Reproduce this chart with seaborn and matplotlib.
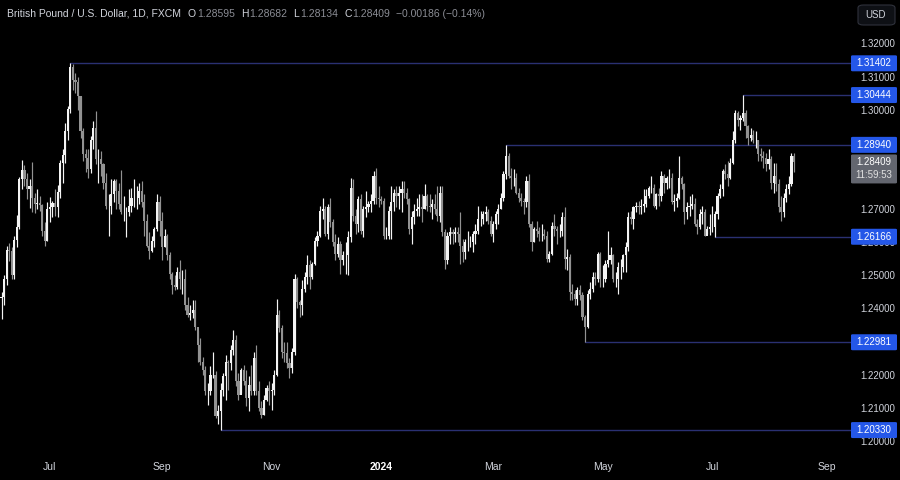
import numpy as np
import pandas as pd
import seaborn as sns
import matplotlib.pyplot as plt
from matplotlib.patches import FancyBboxPatch

# GBP/USD daily candles, FXCM, 5 Jun 2023 - 14 Aug 2024
first_date = '2023-06-05'
first_open = 1.2440

closes = [
    # Jun 2023
    1.2433, 1.2436, 1.2488, 1.2577, 1.2575, 1.2502, 1.2606, 1.2645, 1.2792, 1.2818,
    1.2792, 1.2760, 1.2769, 1.2735, 1.2716, 1.2717, 1.2711, 1.2635, 1.2605, 1.2700,
    # Jul 2023
    1.2705, 1.2717, 1.2706, 1.2751, 1.2838, 1.2863, 1.2935, 1.3003, 1.3130, 1.3090,
    1.3085, 1.3040, 1.2935, 1.2865, 1.2855, 1.2820, 1.2910, 1.2945, 1.2850, 1.2850,
    1.2835,
    # Aug 2023
    1.2780, 1.2710, 1.2710, 1.2745, 1.2785, 1.2755, 1.2715, 1.2690, 1.2690, 1.2690,
    1.2710, 1.2735, 1.2735, 1.2735, 1.2755, 1.2720, 1.2665, 1.2590, 1.2575, 1.2605,
    1.2640, 1.2720, 1.2665,
    # Sep 2023
    1.2585, 1.2620, 1.2560, 1.2505, 1.2470, 1.2465, 1.2510, 1.2490, 1.2490, 1.2410,
    1.2380, 1.2385, 1.2395, 1.2345, 1.2290, 1.2240, 1.2215, 1.2150, 1.2150, 1.2200,
    1.2200,
    # Oct 2023
    1.2075, 1.2090, 1.2155, 1.2195, 1.2240, 1.2235, 1.2275, 1.2305, 1.2180, 1.2140,
    1.2215, 1.2180, 1.2130, 1.2170, 1.2150, 1.2250, 1.2150, 1.2100, 1.2080, 1.2125,
    1.2160, 1.2150,
    # Nov 2023
    1.2155, 1.2200, 1.2380, 1.2340, 1.2270, 1.2265, 1.2235, 1.2220, 1.2270, 1.2490,
    1.2420, 1.2410, 1.2460, 1.2495, 1.2530, 1.2495, 1.2535, 1.2605, 1.2620, 1.2695,
    1.2700, 1.2625,
    # Dec 2023
    1.2705, 1.2660, 1.2600, 1.2565, 1.2595, 1.2545, 1.2560, 1.2560, 1.2615, 1.2765,
    1.2680, 1.2655, 1.2730, 1.2635, 1.2700, 1.2705, 1.2715, 1.2725, 1.2800, 1.2735,
    1.2730,
    # Jan 2024
    1.2725, 1.2620, 1.2620, 1.2695, 1.2720, 1.2750, 1.2740, 1.2750, 1.2760, 1.2750,
    1.2730, 1.2640, 1.2675, 1.2695, 1.2700, 1.2705, 1.2700, 1.2740, 1.2710, 1.2705,
    1.2715, 1.2700, 1.2680,
    # Feb 2024
    1.2750, 1.2630, 1.2545, 1.2620, 1.2630, 1.2625, 1.2630, 1.2625, 1.2590, 1.2570,
    1.2600, 1.2600, 1.2600, 1.2625, 1.2635, 1.2670, 1.2670, 1.2685, 1.2690, 1.2665,
    1.2625,
    # Mar 2024
    1.2655, 1.2685, 1.2700, 1.2735, 1.2805, 1.2860, 1.2800, 1.2795, 1.2795, 1.2750,
    1.2735, 1.2725, 1.2720, 1.2785, 1.2655, 1.2600, 1.2640, 1.2635, 1.2625, 1.2625,
    1.2620,
    # Apr 2024
    1.2550, 1.2565, 1.2650, 1.2640, 1.2635, 1.2635, 1.2675, 1.2550, 1.2555, 1.2450,
    1.2445, 1.2430, 1.2455, 1.2440, 1.2375, 1.2345, 1.2445, 1.2460, 1.2495, 1.2490,
    1.2565, 1.2490,
    # May 2024
    1.2490, 1.2535, 1.2545, 1.2560, 1.2490, 1.2490, 1.2525, 1.2525, 1.2560, 1.2585,
    1.2675, 1.2670, 1.2705, 1.2710, 1.2705, 1.2710, 1.2715, 1.2740, 1.2765, 1.2765,
    1.2710, 1.2745, 1.2740,
    # Jun 2024
    1.2800, 1.2780, 1.2795, 1.2795, 1.2720, 1.2725, 1.2735, 1.2795, 1.2775, 1.2690,
    1.2705, 1.2710, 1.2715, 1.2655, 1.2645, 1.2685, 1.2690, 1.2620, 1.2640, 1.2645,
    # Jul 2024
    1.2645, 1.2685, 1.2740, 1.2760, 1.2815, 1.2805, 1.2795, 1.2840, 1.2910, 1.2990,
    1.2970, 1.2975, 1.2990, 1.2950, 1.2915, 1.2925, 1.2910, 1.2910, 1.2865, 1.2860,
    1.2855, 1.2835, 1.2850,
    # Aug 2024
    1.2780, 1.2800, 1.2775, 1.2705, 1.2690, 1.2735, 1.2760, 1.2775, 1.28595, 1.28409,
]

highs = [
    1.2460, 1.2450, 1.2500, 1.2590, 1.2598, 1.2585, 1.2620, 1.2682, 1.2798, 1.2848,
    1.2832, 1.2810, 1.2790, 1.2841, 1.2750, 1.2760, 1.2740, 1.2716, 1.2660, 1.2720,
    1.2738, 1.2725, 1.2760, 1.2772, 1.2848, 1.2880, 1.2960, 1.3010, 1.31402, 1.3138,
    1.3110, 1.3100, 1.3040, 1.2945, 1.2880, 1.2880, 1.2920, 1.2965, 1.2995, 1.2880,
    1.2875,
    1.2840, 1.2810, 1.2745, 1.2790, 1.2790, 1.2790, 1.2780, 1.2818, 1.2740, 1.2705,
    1.2760, 1.2765, 1.2790, 1.2770, 1.2780, 1.2785, 1.2745, 1.2685, 1.2630, 1.2620,
    1.2645, 1.2745, 1.2740,
    1.2690, 1.2640, 1.2625, 1.2570, 1.2510, 1.2500, 1.2525, 1.2545, 1.2515, 1.2520,
    1.2435, 1.2410, 1.2425, 1.2425, 1.2335, 1.2310, 1.2255, 1.2225, 1.2175, 1.2225,
    1.2270,
    1.2210, 1.2110, 1.2175, 1.2205, 1.2260, 1.2245, 1.2290, 1.2335, 1.2320, 1.2205,
    1.2220, 1.2230, 1.2215, 1.2195, 1.2230, 1.2270, 1.2290, 1.2180, 1.2120, 1.2140,
    1.2170, 1.2180,
    1.2175, 1.2215, 1.2430, 1.2395, 1.2350, 1.2300, 1.2300, 1.2250, 1.2280, 1.2505,
    1.2495, 1.2425, 1.2485, 1.2510, 1.2560, 1.2545, 1.2540, 1.2615, 1.2635, 1.2710,
    1.2735, 1.2710,
    1.2715, 1.2735, 1.2670, 1.2625, 1.2615, 1.2605, 1.2575, 1.2600, 1.2635, 1.2795,
    1.2790, 1.2700, 1.2740, 1.2745, 1.2710, 1.2755, 1.2725, 1.2745, 1.2815, 1.2825,
    1.2770,
    1.2740, 1.2735, 1.2645, 1.2710, 1.2770, 1.2760, 1.2770, 1.2770, 1.2785, 1.2785,
    1.2765, 1.2735, 1.2695, 1.2715, 1.2735, 1.2745, 1.2745, 1.2775, 1.2745, 1.2745,
    1.2730, 1.2745, 1.2770,
    1.2770, 1.2770, 1.2640, 1.2630, 1.2645, 1.2640, 1.2645, 1.2645, 1.2690, 1.2610,
    1.2610, 1.2635, 1.2620, 1.2635, 1.2655, 1.2710, 1.2695, 1.2695, 1.2710, 1.2700,
    1.2680,
    1.2665, 1.2695, 1.2715, 1.2750, 1.2815, 1.28940, 1.2870, 1.2825, 1.2820, 1.2810,
    1.2765, 1.2750, 1.2735, 1.2800, 1.2805, 1.2665, 1.2645, 1.2665, 1.2645, 1.2655,
    1.2640,
    1.2635, 1.2575, 1.2660, 1.2685, 1.2650, 1.2655, 1.2690, 1.2705, 1.2580, 1.2565,
    1.2475, 1.2455, 1.2465, 1.2470, 1.2450, 1.2380, 1.2455, 1.2480, 1.2510, 1.2510,
    1.2570, 1.2570,
    1.2530, 1.2545, 1.2635, 1.2585, 1.2565, 1.2510, 1.2540, 1.2550, 1.2565, 1.2600,
    1.2690, 1.2695, 1.2710, 1.2720, 1.2725, 1.2730, 1.2760, 1.2760, 1.2770, 1.2800,
    1.2775, 1.2750, 1.2765,
    1.2815, 1.2805, 1.2800, 1.2820, 1.2810, 1.2745, 1.2750, 1.2860, 1.2800, 1.2780,
    1.2720, 1.2740, 1.2745, 1.2735, 1.2670, 1.2700, 1.2710, 1.2700, 1.2650, 1.2685,
    1.2710, 1.2695, 1.2750, 1.2775, 1.2820, 1.2835, 1.2845, 1.2855, 1.2935, 1.3000,
    1.2995, 1.2985, 1.30444, 1.3000, 1.2955, 1.2945, 1.2940, 1.2935, 1.2910, 1.2885,
    1.2875, 1.2870, 1.2880,
    1.2860, 1.2840, 1.2840, 1.2790, 1.2740, 1.2750, 1.2775, 1.2800, 1.2870, 1.28682,
]

lows = [
    1.2370, 1.2368, 1.2410, 1.2470, 1.2542, 1.2490, 1.2490, 1.2585, 1.2640, 1.2760,
    1.2770, 1.2730, 1.2703, 1.2690, 1.2689, 1.2700, 1.2693, 1.2620, 1.2590, 1.2603,
    1.2660, 1.2676, 1.2680, 1.2677, 1.2735, 1.2780, 1.2840, 1.2910, 1.2990, 1.3060,
    1.3050, 1.3000, 1.2915, 1.2845, 1.2812, 1.2795, 1.2810, 1.2880, 1.2837, 1.2780,
    1.2800,
    1.2760, 1.2700, 1.2620, 1.2685, 1.2720, 1.2700, 1.2700, 1.2685, 1.2665, 1.2615,
    1.2680, 1.2690, 1.2705, 1.2700, 1.2715, 1.2705, 1.2620, 1.2585, 1.2550, 1.2570,
    1.2585, 1.2635, 1.2620,
    1.2545, 1.2585, 1.2545, 1.2490, 1.2445, 1.2455, 1.2460, 1.2460, 1.2445, 1.2395,
    1.2375, 1.2365, 1.2370, 1.2335, 1.2240, 1.2230, 1.2200, 1.2140, 1.2110, 1.2140,
    1.2190,
    1.2070, 1.2050, 1.20330, 1.2135, 1.2125, 1.2155, 1.2215, 1.2260, 1.2165, 1.2125,
    1.2145, 1.2170, 1.2105, 1.2090, 1.2140, 1.2140, 1.2140, 1.2090, 1.2070, 1.2080,
    1.2120, 1.2110,
    1.2095, 1.2140, 1.2195, 1.2330, 1.2250, 1.2240, 1.2220, 1.2190, 1.2205, 1.2260,
    1.2400, 1.2375, 1.2380, 1.2450, 1.2475, 1.2460, 1.2490, 1.2530, 1.2590, 1.2615,
    1.2670, 1.2620,
    1.2610, 1.2645, 1.2590, 1.2545, 1.2555, 1.2505, 1.2530, 1.2505, 1.2500, 1.2600,
    1.2665, 1.2625, 1.2630, 1.2625, 1.2615, 1.2675, 1.2690, 1.2690, 1.2715, 1.2715,
    1.2705,
    1.2715, 1.2610, 1.2610, 1.2610, 1.2610, 1.2695, 1.2705, 1.2700, 1.2690, 1.2735,
    1.2715, 1.2625, 1.2595, 1.2655, 1.2680, 1.2680, 1.2660, 1.2700, 1.2695, 1.2690,
    1.2670, 1.2685, 1.2665,
    1.2660, 1.2620, 1.2520, 1.2535, 1.2595, 1.2595, 1.2600, 1.2600, 1.2535, 1.2540,
    1.2550, 1.2575, 1.2585, 1.2570, 1.2595, 1.2625, 1.2650, 1.2655, 1.2665, 1.2655,
    1.2620,
    1.2600, 1.2640, 1.2655, 1.2700, 1.2725, 1.2790, 1.2795, 1.2760, 1.2770, 1.2745,
    1.2720, 1.2710, 1.2685, 1.2705, 1.2645, 1.2575, 1.2600, 1.2615, 1.2605, 1.2605,
    1.2610,
    1.2540, 1.2540, 1.2560, 1.2620, 1.2595, 1.2615, 1.2620, 1.2520, 1.2515, 1.2425,
    1.2425, 1.2410, 1.2410, 1.2425, 1.2365, 1.22981, 1.2340, 1.2430, 1.2450, 1.2470,
    1.2480, 1.2465,
    1.2465, 1.2480, 1.2525, 1.2535, 1.2480, 1.2465, 1.2445, 1.2490, 1.2510, 1.2510,
    1.2575, 1.2655, 1.2640, 1.2690, 1.2685, 1.2685, 1.2690, 1.2705, 1.2735, 1.2750,
    1.2705, 1.2700, 1.2710,
    1.2725, 1.2750, 1.2760, 1.2765, 1.2715, 1.2695, 1.2705, 1.2730, 1.2760, 1.2655,
    1.2670, 1.2680, 1.2700, 1.2650, 1.2625, 1.2640, 1.2655, 1.2620, 1.2625, 1.2622,
    1.2630, 1.26166, 1.2670, 1.2735, 1.2740, 1.2790, 1.2770, 1.2790, 1.2835, 1.2900,
    1.2950, 1.2940, 1.2965, 1.2915, 1.2895, 1.2905, 1.2900, 1.2885, 1.2845, 1.2845,
    1.2825, 1.2815, 1.2820,
    1.2760, 1.2750, 1.2755, 1.2690, 1.2665, 1.2675, 1.2720, 1.2745, 1.2770, 1.28134,
]

# horizontal support / resistance levels drawn on the chart
levels = [1.31402, 1.30444, 1.28940, 1.26166, 1.22981, 1.20330]
last_price = 1.28409
countdown = '11:59:53'
header_title = 'British Pound / U.S. Dollar, 1D, FXCM'
header_ohlc = [('O', '1.28595'), ('H', '1.28682'), ('L', '1.28134'), ('C', '1.28409')]
header_change = '\u22120.00186 (\u22120.14%)'

month_ticks = ['2023-07', '2023-09', '2023-11', '2024-01', '2024-03', '2024-05', '2024-07', '2024-09']
month_labels = ['Jul', 'Sep', 'Nov', '2024', 'Mar', 'May', 'Jul', 'Sep']
# 1.23, 1.28 and 1.29 sit fully under the level / last price tags in the original
price_ticks = [1.20, 1.21, 1.22, 1.24, 1.25, 1.26, 1.27, 1.30, 1.31, 1.32]

assert len(closes) == len(highs) == len(lows)

# FX bars open where the previous one closed
c = np.array(closes)
o = np.concatenate([[first_open], c[:-1]])
h = np.array(highs)
l = np.array(lows)
x = np.arange(len(c))

sns.set_theme(style='dark', rc={'axes.facecolor': 'black', 'figure.facecolor': 'black',
                                'axes.grid': False})
plt.rcParams['font.family'] = ['Liberation Sans', 'DejaVu Sans']

TXT = '#d1d4dc'
GREY = '#8b8d95'
FS = 7
W, H = 900, 480

fig = plt.figure(figsize=(9, 4.8), dpi=100)
ax = fig.add_axes([0, 28 / H, 848 / W, 452 / H])
ax.set_facecolor('black')
for s in ax.spines.values():
    s.set_visible(False)

up = c >= o
colors = np.where(up, '#f4f4f4', '#929292')
ax.vlines(x, l, h, colors=colors, lw=0.85, zorder=3)
ax.bar(x, np.abs(c - o), bottom=np.minimum(o, c), width=0.85, color=colors, lw=0, zorder=4)

ax.set_xlim(0.4, 333.2)
ax.set_ylim(1.19668, 1.33313)

# month axis from business-day calendar
dates = pd.bdate_range(first_date, periods=340)
pos = [int(np.argmax(dates.strftime('%Y-%m') == m)) for m in month_ticks]
ax.set_xticks(pos)
ax.set_xticklabels(month_labels)
ax.tick_params(axis='x', length=0, pad=7, labelsize=FS + 0.5, labelcolor=TXT)
for t in ax.get_xticklabels():
    if t.get_text() == '2024':
        t.set_fontweight('bold')
        t.set_color('white')

ax.yaxis.tick_right()
ax.set_yticks(price_ticks)
ax.set_yticklabels([f'{v:.5f}' for v in price_ticks], ha='right')
ax.tick_params(axis='y', length=0, pad=34, labelsize=FS, labelcolor=TXT)

# level lines from the pivot bar to the price scale
x_end = 334.5
for lvl in levels:
    i0 = int(np.argmin(np.minimum(np.abs(h - lvl), np.abs(l - lvl))))
    ax.plot([i0, x_end], [lvl, lvl], color='#2a3072', lw=1, clip_on=False, zorder=2)

# price scale labels
for lvl in levels:
    yd = ax.transData.transform((0, lvl))[1]
    fig.add_artist(FancyBboxPatch((851 / W, (yd - 8) / H), 46 / W, 16 / H,
                                  boxstyle='round,pad=0,rounding_size=0.002',
                                  transform=fig.transFigure, fc='#2457e8', ec='none', zorder=5))
    fig.text(874 / W, yd / H, f'{lvl:.5f}', ha='center', va='center', color='white',
             fontsize=FS, zorder=6)

yd = ax.transData.transform((0, last_price))[1]
fig.add_artist(FancyBboxPatch((851 / W, (yd - 21) / H), 46 / W, 29 / H,
                              boxstyle='round,pad=0,rounding_size=0.002',
                              transform=fig.transFigure, fc='#63666f', ec='none', zorder=5))
fig.text(874 / W, yd / H, f'{last_price:.5f}', ha='center', va='center', color='white',
         fontsize=FS, zorder=6)
fig.text(874 / W, (yd - 13) / H, countdown, ha='center', va='center', color='#e0e0e0',
         fontsize=FS, zorder=6)

# currency button
fig.add_artist(FancyBboxPatch((858 / W, 455 / H), 37 / W, 20 / H,
                              boxstyle='round,pad=0,rounding_size=0.006',
                              transform=fig.transFigure, fc='#0e1015', ec='#2f323c', lw=0.8, zorder=5))
fig.text(876 / W, 465 / H, 'USD', ha='center', va='center', color=TXT, fontsize=FS, zorder=6)

# header line, pieces laid out one after another
renderer = fig.canvas.get_renderer()
hy = (H - 14) / H
cur = 7


def put(s, color, gap):
    global cur
    t = fig.text(cur / W, hy, s, ha='left', va='center', color=color, fontsize=FS + 0.5)
    cur = t.get_window_extent(renderer).x1 + gap


put(header_title, TXT, 7)
for k, v in header_ohlc:
    put(k, TXT, 1)
    put(v, GREY, 6)
put(header_change, GREY, 0)

fig.savefig('out.png', dpi=100, facecolor='black')
